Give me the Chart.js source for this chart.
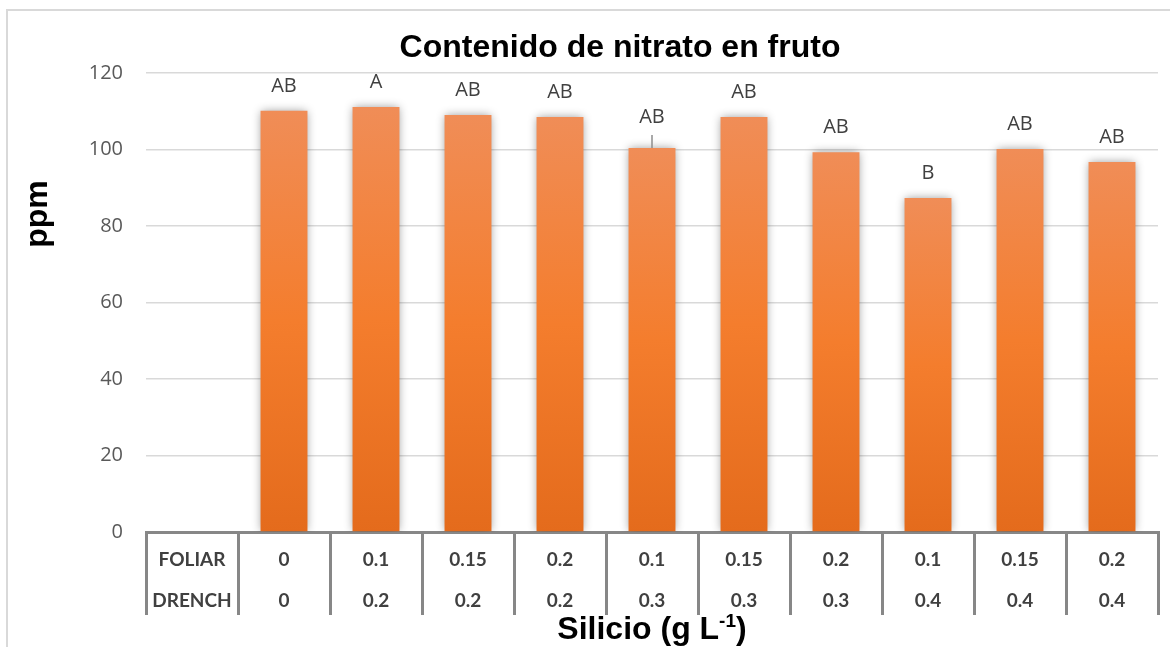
<!DOCTYPE html>
<html>
<head>
<meta charset="utf-8">
<script src="https://cdn.jsdelivr.net/npm/chart.js@4/dist/chart.umd.min.js"></script>
<style>
  html, body { margin: 0; padding: 0; background: #ffffff; }
  canvas { display: block; }
</style>
</head>
<body>
<canvas id="chart" width="1170" height="647"></canvas>
<script>
// Texts
const chartTitle = 'Contenido de nitrato en fruto';
const yTitle = 'ppm';
const xTitleMain = 'Silicio (g L';
const xTitleSup = '-1';
const xTitleEnd = ')';

// Treatment table (rows under the axis)
const rowNames = ['FOLIAR', 'DRENCH'];
const foliar = ['0', '0.1', '0.15', '0.2', '0.1', '0.15', '0.2', '0.1', '0.15', '0.2'];
const drench = ['0', '0.2', '0.2', '0.2', '0.3', '0.3', '0.3', '0.4', '0.4', '0.4'];

// Nitrate content (ppm), upper error and significance letters
const nitrate = [110.1, 111.1, 109.0, 108.5, 100.4, 108.5, 99.3, 87.3, 100.1, 96.7];
const errorUp = [0, 0, 0, 0, 3.4, 0, 0, 0, 0, 0];
const letters = ['AB', 'A', 'AB', 'AB', 'AB', 'AB', 'AB', 'B', 'AB', 'AB'];

// Value axis
const yMin = 0;
const yMax = 120;
const yStep = 20;

// First column holds the row names of the table, so it carries no bar
const labels = [rowNames.slice()].concat(foliar.map((f, i) => [f, drench[i]]));
const values = [null].concat(nitrate);
const errors = [0].concat(errorUp);
const marks = [''].concat(letters);

const barTop = '#f08d57';
const barMid = '#f47d2d';
const barBottom = '#e46b1c';

function barFill(context) {
  const chart = context.chart;
  const area = chart.chartArea;
  const v = context.raw;
  if (!area || v === null || v === undefined) return barMid;
  const y = chart.scales.y;
  const top = y.getPixelForValue(v);
  const base = y.getPixelForValue(0);
  const g = chart.ctx.createLinearGradient(0, top, 0, base);
  g.addColorStop(0, barTop);
  g.addColorStop(0.5, barMid);
  g.addColorStop(1, barBottom);
  return g;
}

const boldFont = (px) => 'bold ' + px + 'px "Liberation Sans", Arial, sans-serif';

const decor = {
  id: 'decor',
  beforeDraw(chart) {
    const c = chart.ctx;
    c.save();
    c.strokeStyle = '#d9d9d9';
    c.lineWidth = 2;
    c.strokeRect(7, 10, chart.width + 40, chart.height + 40);
    c.restore();
  },
  beforeDatasetsDraw(chart) {
    const c = chart.ctx;
    c.save();
    c.shadowColor = 'rgba(0,0,0,0.42)';
    c.shadowBlur = 9;
  },
  afterDatasetsDraw(chart) {
    const c = chart.ctx;
    c.restore();
    const y = chart.scales.y;
    const meta = chart.getDatasetMeta(0);
    c.save();
    // error whiskers
    c.strokeStyle = '#8c8c8c';
    c.lineWidth = 1.5;
    values.forEach((v, i) => {
      if (v === null || !errors[i]) return;
      const x = meta.data[i].x;
      c.beginPath();
      c.moveTo(x, y.getPixelForValue(v));
      c.lineTo(x, y.getPixelForValue(v + errors[i]));
      c.stroke();
    });
    // significance letters
    c.fillStyle = '#404040';
    c.font = '20px "Open Sans"';
    c.textAlign = 'center';
    c.textBaseline = 'middle';
    values.forEach((v, i) => {
      if (v === null) return;
      const x = meta.data[i].x;
      const e = errors[i];
      const ty = y.getPixelForValue(v + e) - (e > 0 ? 18 : 25);
      c.fillText(marks[i], x, ty);
    });
    c.restore();
  },
  afterDraw(chart) {
    const c = chart.ctx;
    const area = chart.chartArea;
    c.save();
    c.fillStyle = '#000000';
    // chart title
    c.font = boldFont(32);
    c.textAlign = 'center';
    c.textBaseline = 'alphabetic';
    c.fillText(chartTitle, 620, 57);
    // value axis title
    c.save();
    c.translate(47, 214);
    c.rotate(-Math.PI / 2);
    c.fillText(yTitle, 0, 0);
    c.restore();
    // category axis title with superscript
    c.font = boldFont(32);
    const wMain = c.measureText(xTitleMain).width;
    const wEnd = c.measureText(xTitleEnd).width;
    c.font = boldFont(19);
    const wSup = c.measureText(xTitleSup).width;
    const total = wMain + wSup + wEnd;
    let x = (area.left + area.right) / 2 - total / 2;
    const base = 639;
    c.textAlign = 'left';
    c.font = boldFont(32);
    c.fillText(xTitleMain, x, base);
    x += wMain;
    c.font = boldFont(19);
    c.fillText(xTitleSup, x, base - 12);
    x += wSup;
    c.font = boldFont(32);
    c.fillText(xTitleEnd, x, base);
    c.restore();
  }
};

new Chart(document.getElementById('chart'), {
  type: 'bar',
  data: {
    labels: labels,
    datasets: [{
      data: values,
      backgroundColor: barFill,
      borderWidth: 0,
      barPercentage: 0.51,
      categoryPercentage: 1.0
    }]
  },
  options: {
    responsive: false,
    animation: false,
    events: [],
    layout: { padding: { top: 73, right: 12, bottom: 32, left: 0 } },
    plugins: {
      legend: { display: false },
      title: { display: false },
      tooltip: { enabled: false }
    },
    scales: {
      x: {
        offset: true,
        afterFit: (s) => { s.height = 83; },
        grid: {
          offset: true,
          drawOnChartArea: false,
          drawTicks: true,
          tickLength: 83,
          color: '#878787',
          lineWidth: 3
        },
        border: { display: true, color: '#878787', width: 3 },
        ticks: {
          autoSkip: false,
          maxRotation: 0,
          minRotation: 0,
          padding: -76,
          color: '#404040',
          font: { family: 'Lato', weight: 'bold', size: 19, lineHeight: 41 / 19 }
        }
      },
      y: {
        min: yMin,
        max: yMax,
        afterFit: (s) => { s.width = 146; },
        ticks: {
          stepSize: yStep,
          padding: 23,
          color: '#595959',
          font: { family: 'Open Sans', size: 20 }
        },
        grid: { color: '#d9d9d9', lineWidth: 1.5, drawTicks: false },
        border: { display: false }
      }
    }
  },
  plugins: [decor]
});
</script>
</body>
</html>
